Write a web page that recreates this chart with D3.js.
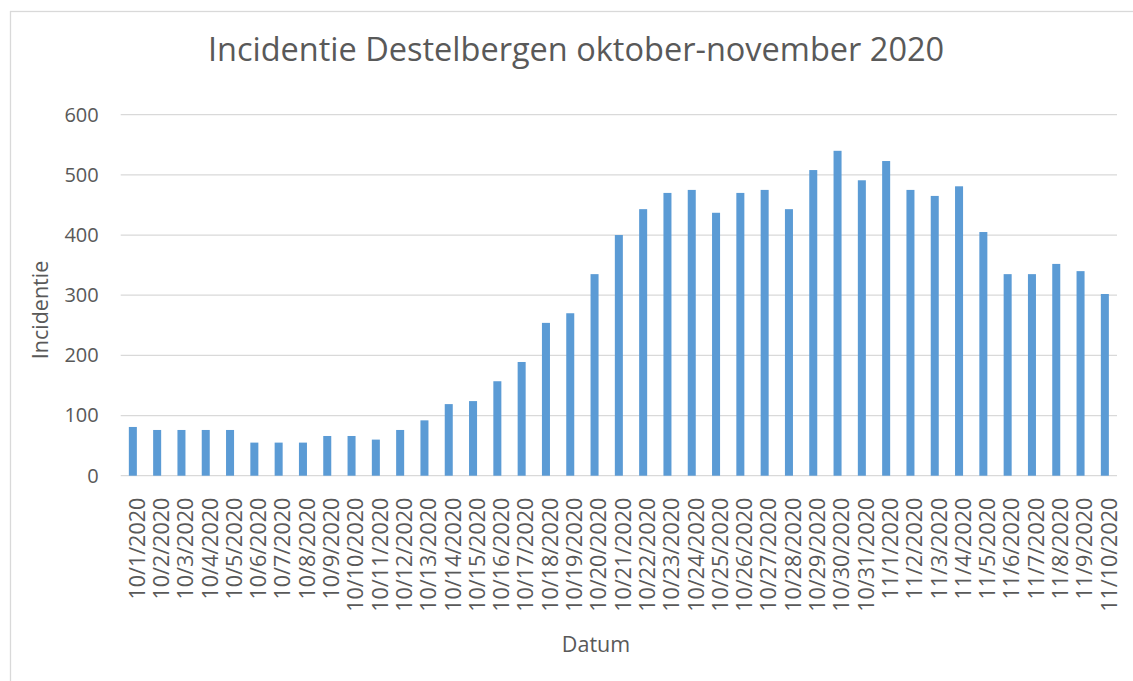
<!DOCTYPE html>
<html>
<head>
<meta charset="utf-8">
<script src="https://cdn.jsdelivr.net/npm/d3@7"></script>
<style>
  body { margin: 0; background: #fff; }
  text { font-family: "Open Sans", sans-serif; fill: #595959; }
</style>
</head>
<body>
<div id="chart"></div>
<script>
// dates 10/1 .. 11/10 2020
const dates = [
    "10/1/2020", "10/2/2020", "10/3/2020", "10/4/2020", "10/5/2020", "10/6/2020",
    "10/7/2020", "10/8/2020", "10/9/2020", "10/10/2020", "10/11/2020", "10/12/2020",
    "10/13/2020", "10/14/2020", "10/15/2020", "10/16/2020", "10/17/2020", "10/18/2020",
    "10/19/2020", "10/20/2020", "10/21/2020", "10/22/2020", "10/23/2020", "10/24/2020",
    "10/25/2020", "10/26/2020", "10/27/2020", "10/28/2020", "10/29/2020", "10/30/2020",
    "10/31/2020", "11/1/2020", "11/2/2020", "11/3/2020", "11/4/2020", "11/5/2020",
    "11/6/2020", "11/7/2020", "11/8/2020", "11/9/2020", "11/10/2020"
];
const incidentie = [
    81, 76, 76, 76, 76, 55, 55, 55, 66, 66, 60, 76,
    92, 119, 124, 157, 189, 254, 270, 335, 400, 443, 470, 475,
    437, 470, 475, 443, 508, 540, 491, 523, 475, 465, 481, 405,
    335, 335, 352, 340, 302
];
const yTicks = [0, 100, 200, 300, 400, 500, 600];

const width = 1133;
const height = 681;
const margin = { top: 114.7, right: 16, bottom: 205.3, left: 120.7 };

const svg = d3.select("#chart").append("svg")
    .attr("width", width)
    .attr("height", height);

// chart border
svg.append("rect")
    .attr("x", 10.5).attr("y", 11.5)
    .attr("width", width).attr("height", height)
    .attr("fill", "none")
    .attr("stroke", "#d9d9d9")
    .attr("stroke-width", 1.3);

const x = d3.scaleBand()
    .domain(dates)
    .range([margin.left, width - margin.right])
    .paddingInner(0.67)
    .paddingOuter(0.335);

const y = d3.scaleLinear()
    .domain([0, 600])
    .range([height - margin.bottom, margin.top]);

// gridlines
svg.append("g")
    .selectAll("line")
    .data(yTicks)
    .enter().append("line")
    .attr("x1", margin.left)
    .attr("x2", width - margin.right)
    .attr("y1", d => y(d))
    .attr("y2", d => y(d))
    .attr("stroke", "#d9d9d9")
    .attr("stroke-width", 1.3);

// y axis labels
const yAxis = svg.append("g")
    .attr("transform", `translate(${margin.left - 22},0)`)
    .call(d3.axisLeft(y).tickValues(yTicks).tickSize(0).tickPadding(0));
yAxis.select(".domain").remove();
yAxis.selectAll("text")
    .style("font-family", "Open Sans")
    .style("font-size", "20px")
    .attr("fill", "#595959");

// bars
svg.append("g")
    .selectAll("rect")
    .data(incidentie)
    .enter().append("rect")
    .attr("x", (d, i) => x(dates[i]))
    .attr("width", x.bandwidth())
    .attr("y", d => y(d))
    .attr("height", d => y(0) - y(d))
    .attr("fill", "#5b9bd5");

// x axis labels
const xAxis = svg.append("g")
    .attr("transform", `translate(0,${y(0)})`)
    .call(d3.axisBottom(x).tickSize(0).tickPadding(0));
xAxis.select(".domain").remove();
xAxis.selectAll("text")
    .style("font-family", "Open Sans")
    .style("font-size", "21.5px")
    .attr("fill", "#595959")
    .attr("text-anchor", "end")
    .attr("transform", "translate(0,22) rotate(-90)")
    .attr("x", 0)
    .attr("y", 0)
    .attr("dy", "0.55em");

// title
svg.append("text")
    .attr("x", 576)
    .attr("y", 61)
    .attr("text-anchor", "middle")
    .style("font-size", "32.5px")
    .text("Incidentie Destelbergen oktober-november 2020");

// axis titles
svg.append("text")
    .attr("x", 596)
    .attr("y", 652)
    .attr("text-anchor", "middle")
    .style("font-size", "21.5px")
    .text("Datum");

svg.append("text")
    .attr("transform", "translate(48,310) rotate(-90)")
    .attr("text-anchor", "middle")
    .style("font-size", "21.5px")
    .text("Incidentie");
</script>
</body>
</html>
